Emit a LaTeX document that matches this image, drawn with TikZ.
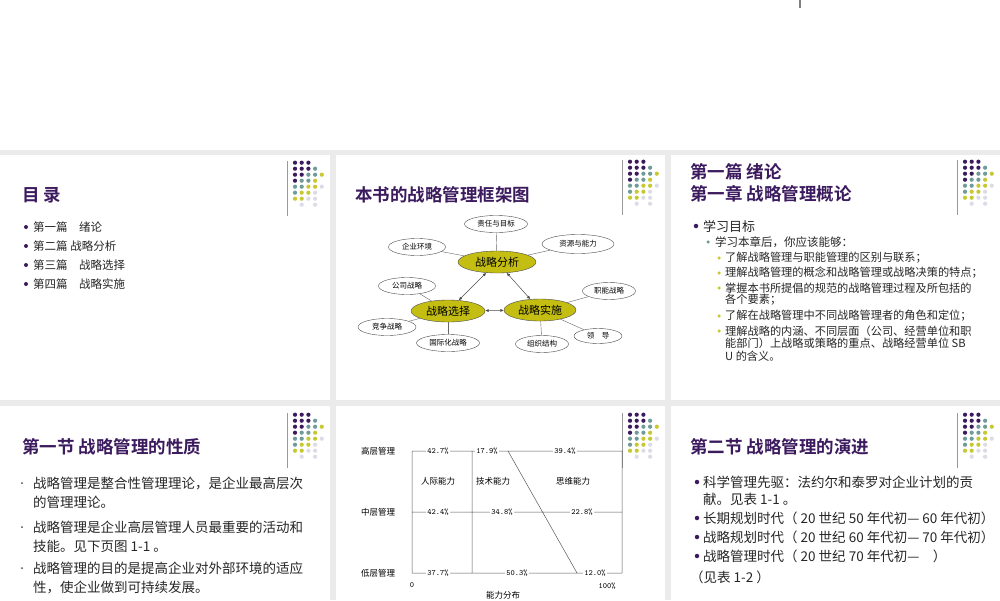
\documentclass[tikz,border=0pt]{standalone}
\usepackage{fontspec}
\setmainfont{Liberation Sans}
\newfontfamily\cjk{Noto Sans CJK SC}
\newfontfamily\cjkb{Noto Sans CJK SC Bold}
\usetikzlibrary{shapes.geometric,arrows.meta}
\definecolor{pp}{HTML}{3B1A5E}
\definecolor{tl}{HTML}{6F9B98}
\definecolor{yl}{HTML}{C8C832}
\definecolor{lv}{HTML}{DCDCE8}
\definecolor{ol}{HTML}{C4BE12}
\definecolor{bg}{HTML}{EBEBEB}
\newcommand\mydeco[2]{%
  \draw[gray!80,line width=1pt] (#1,#2) -- (#1,#2+55);
  \foreach \cc/\rr/\kk in {0/0/pp,1/0/pp,2/0/pp,0/1/pp,1/1/pp,2/1/pp,3/1/tl,0/2/pp,1/2/pp,2/2/tl,3/2/tl,4/2/yl,0/3/pp,1/3/tl,2/3/tl,3/3/yl,0/4/tl,1/4/tl,2/4/yl,3/4/yl,4/4/lv,0/5/tl,1/5/yl,2/5/yl,3/5/lv,0/6/yl,1/6/yl,2/6/lv,3/6/lv,1/7/lv,3/7/lv}
    \fill[\kk] ({#1+8+\cc*6.7},{#2+1.7+\rr*6}) circle (2.1);
}
\tikzset{
  ttl/.style={anchor=west,text=pp,font=\cjkb\fontsize{17.5}{20}\selectfont,inner sep=0},
  txt/.style={anchor=west,font=\cjk\fontsize{#1}{#1}\selectfont,inner sep=0,text=black!85},
  sm/.style={ellipse,draw=black!70,fill=white,minimum width=#1,minimum height=17,inner sep=0,font=\cjk\fontsize{7.5}{8}\selectfont},
  bigE/.style={ellipse,draw=black!70,fill=ol,minimum width=#1,minimum height=22,inner sep=0,font=\cjk\fontsize{11}{12}\selectfont},
  lbl/.style={fill=white,inner sep=1,font=\fontsize{8}{9}\selectfont\ttfamily},
  clb/.style={inner sep=0,font=\cjk\fontsize{8.5}{9}\selectfont},
  bl/.style={circle,fill=#1,inner sep=0,minimum size=4.5},
  dbl/.style={{Latex[length=3.5,width=3]}-{Latex[length=3.5,width=3]},black!70,line width=0.5}
}
\begin{document}
\begin{tikzpicture}[x=1pt,y=-1pt]
\useasboundingbox (0,0) rectangle (1000,600);
\fill[white] (0,0) rectangle (1000,600);
\fill[bg] (0,150) rectangle (1000,600);
\foreach \xa/\xb in {0/330,336/665,671/1000}{
  \fill[white] (\xa,155) rectangle (\xb,400);
  \fill[white] (\xa,406) rectangle (\xb,600);}
\draw[gray,line width=1.5pt] (800,0) -- (800,8);
\mydeco{287}{161}\mydeco{622}{160}\mydeco{957}{160}
\mydeco{287}{413}\mydeco{622}{413}\mydeco{957}{413}
% panel 1
\node[ttl] (t1) at (22,195) {目 录};
\foreach \yy/\tt [count=\i] in {227/第一篇\quad 绪论,246/第二篇 战略分析,265/第三篇\quad 战略选择,284/第四篇\quad 战略实施}{
  \node[bl=pp,minimum size=4] (b1\i) at (26,\yy) {};
  \node[txt=11.5] (i1\i) at (33,\yy) {\tt};}
% panel 2
\node[ttl] (t2) at (355,195) {本书的战略管理框架图};
\node[bigE=78] (fx) at (497,262) {战略分析};
\node[bigE=74] (xz) at (448,311) {战略选择};
\node[bigE=72] (ss) at (540,310) {战略实施};
\node[sm=63] (a1) at (496,224) {责任与目标};
\node[sm=57] (a2) at (417,247) {企业环境};
\node[sm=72,minimum height=19] (a3) at (578,244) {资源与能力};
\node[sm=57] (a4) at (407,286) {公司战略};
\node[sm=53] (a5) at (609,291) {职能战略};
\node[sm=58] (a6) at (387,327) {竞争战略};
\node[sm=63] (a7) at (448,343) {国际化战略};
\node[sm=53] (a8) at (542,344) {组织结构};
\node[sm=48,minimum height=15] (a9) at (598,336) {领\quad 导};
\foreach \a/\b in {a1/fx,a2/fx,a3/fx,a4/xz,a6/xz,a7/xz,a5/ss,a8/ss,a9/ss}
  \draw[black!60,line width=0.4] (\a) -- (\b);
\draw[dbl] (fx) -- (xz);
\draw[dbl] (fx) -- (ss);
\draw[dbl] (xz) -- (ss);
% panel 3
\node[ttl] (t3a) at (690,172) {第一篇 绪论};
\node[ttl] (t3b) at (690,194) {第一章 战略管理概论};
\node[bl=pp] (b30) at (696,226) {};
\node[txt=13] (i30) at (703,226) {学习目标};
\node[bl=tl,minimum size=3.5] (b31) at (708,242) {};
\node[txt=11.5] (i31) at (715,242) {学习本章后，你应该能够：};
\foreach \yy in {258,273,288,316,331}{\node[bl=yl,minimum size=3.5] at (719,\yy) {};}
\foreach \yy/\tt [count=\i] in {258/了解战略管理与职能管理的区别与联系；,273/理解战略管理的概念和战略管理或战略决策的特点；,288/掌握本书所提倡的规范的战略管理过程及所包括的,300/各个要素；,316/了解在战略管理中不同战略管理者的角色和定位；,331/理解战略的内涵、不同层面（公司、经营单位和职,343/能部门）上战略或策略的重点、战略经营单位 SB,356/U 的含义。}
  \node[txt=11.2] (i3\i) at (725,\yy) {\tt};
% panel 4
\node[ttl] (t4) at (22,447) {第一节 战略管理的性质};
\foreach \yy/\tt [count=\i] in {483/战略管理是整合性管理理论，是企业最高层次,502/的管理理论。,527/战略管理是企业高层管理人员最重要的活动和,546/技能。见下页图 1-1 。,568/战略管理的目的是提高企业对外部环境的适应,587/性，使企业做到可持续发展。}
  \node[txt=13.5] (i4\i) at (33,\yy) {\tt};
\foreach \yy in {483,527,568}{\fill[black!70] (22,\yy) circle (1);}
% panel 5 chart
\node[clb] (h1) at (378,451) {高层管理};
\node[clb] (h2) at (378,512) {中层管理};
\node[clb] (h3) at (378,573) {低层管理};
\coordinate (l1) at (412,451); \coordinate (r1) at (622,451);
\coordinate (l2) at (412,512); \coordinate (r2) at (622,512);
\coordinate (l3) at (412,573); \coordinate (r3) at (622,573);
\coordinate (m1) at (472,451); \coordinate (m3) at (472,573);
\coordinate (d1) at (508,451); \coordinate (d3) at (577,573);
\draw[black!65,line width=0.5] (l1)--(l3) (r1)--(r3) (m1)--(m3) (l1)--(r1) (l2)--(r2) (l3)--(r3) (d1)--(d3);
\node[lbl] (p1) at (438,451) {42.7\%};
\node[lbl] (p2) at (487,451) {17.9\%};
\node[lbl] (p3) at (565,451) {39.4\%};
\node[lbl] (p4) at (438,512) {42.4\%};
\node[lbl] (p5) at (502,512) {34.8\%};
\node[lbl] (p6) at (582,512) {22.8\%};
\node[lbl] (p7) at (438,573) {37.7\%};
\node[lbl] (p8) at (517,573) {50.3\%};
\node[lbl] (p9) at (595,573) {12.0\%};
\node[clb] (c1) at (438,481) {人际能力};
\node[clb] (c2) at (493,481) {技术能力};
\node[clb] (c3) at (573,481) {思维能力};
\node[lbl,fill=none] (z0) at (412,585) {0};
\node[lbl,fill=none] (z1) at (607,586) {100\%};
\node[clb] (ax) at (503,595) {能力分布};
% panel 6
\node[ttl] (t6) at (690,447) {第二节 战略管理的演进};
\foreach \yy in {482,518,537,556}{\node[bl=pp] at (697,\yy) {};}
\foreach \yy/\tt [count=\i] in {482/科学管理先驱：法约尔和泰罗对企业计划的贡,499/献。见表 1-1 。,518/长期规划时代（ 20 世纪 50 年代初— 60 年代初）,537/战略规划时代（ 20 世纪 60 年代初— 70 年代初）,556/战略管理时代（ 20 世纪 70 年代初—\quad ）}
  \node[txt=13.5] (i6\i) at (703,\yy) {\tt};
\node[txt=13.5] (i67) at (690,577) {（见表 1-2 ）};
\end{tikzpicture}
\end{document}
